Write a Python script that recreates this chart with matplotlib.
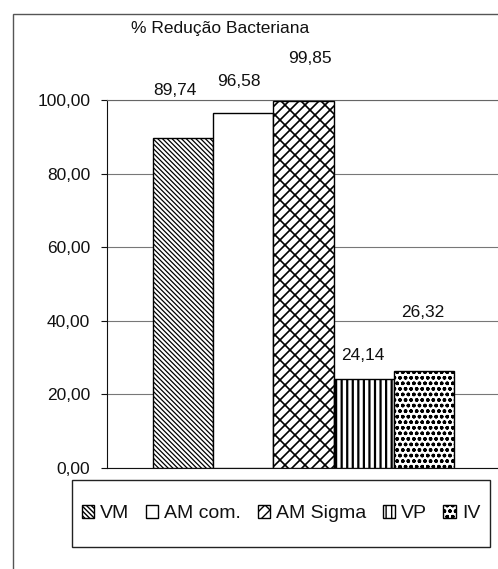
import warnings
warnings.filterwarnings('ignore')
import numpy as np
import matplotlib
matplotlib.use('Agg')
import matplotlib.pyplot as plt
import matplotlib.hatch as mhatch
from matplotlib.path import Path
from matplotlib.patches import Rectangle

# ---------------- data ----------------
series = ['VM', 'AM com.', 'AM Sigma', 'VP', 'IV']
values = [89.74, 96.58, 99.85, 24.14, 26.32]
value_labels = ['89,74', '96,58', '99,85', '24,14', '26,32']
y_ticks = [0, 20, 40, 60, 80, 100]
y_tick_labels = ['0,00', '20,00', '40,00', '60,00', '80,00', '100,00']
title = '% Redução Bacteriana'

# ---------------- styles ----------------
hatches = ['\\' * 7, '', 'B', '|||', 'ooo']
hatch_lw = [0.9, 0.9, 1.2, 1.6, 1.0]
label_offsets_px = [(-8, 47), (-4, 31), (6, 42), (-1, 24), (-1, 59)]


# custom "diagonal brick" hatch, registered as the character 'B'
class BrickHatch(mhatch.HatchPatternBase):
    def __init__(self, hatch, density):
        n = hatch.count('B')
        segs = []
        if n:
            m, q = 10, 10
            P = 1.0 / q
            d = 1.0 / (2 * m)
            for k in range(-m, m + 1):
                c = k / m
                segs.append(((0.0, c), (1.0, 1.0 + c)))
                if k < m:
                    off = (k % 2) * P / 2
                    for j in range(-2, q + 3):
                        t = j * P + off
                        segs.append(((t, t + c), (t - d, t + c + d)))
        self.segs = segs
        self.num_vertices = 2 * len(segs)

    def set_vertices_and_codes(self, vertices, codes):
        for i, (a, b) in enumerate(self.segs):
            vertices[2 * i] = a
            vertices[2 * i + 1] = b
            codes[2 * i] = Path.MOVETO
            codes[2 * i + 1] = Path.LINETO


mhatch._hatch_types.append(BrickHatch)
try:
    mhatch._validate_hatch_pattern = lambda h: None
except Exception:
    pass

plt.rcParams['font.family'] = ['Liberation Sans', 'DejaVu Sans']
plt.rcParams['hatch.linewidth'] = 1.0
plt.rcParams['hatch.color'] = 'black'

W, H = 498, 569
fig = plt.figure(figsize=(W / 100, H / 100), dpi=100)
fig.patch.set_facecolor('white')

ax = fig.add_axes([107 / W, 1 - 468 / H, 393 / W, 368 / H])

x = np.arange(len(series))
bars = []
for i in range(len(series)):
    b = ax.bar(x[i], values[i], width=1.0, color='white', edgecolor='black',
               linewidth=1.0, hatch=hatches[i], label=series[i], zorder=3)
    for p in b.patches:
        try:
            p.set_hatch_linewidth(hatch_lw[i])
        except Exception:
            pass
    bars.append(b)
    ax.annotate(value_labels[i], xy=(x[i], values[i]),
                xytext=label_offsets_px[i], textcoords='offset pixels',
                ha='center', va='center', fontsize=12.5, color='#111',
                annotation_clip=False)

span = 393 / 60.3
ax.set_xlim(2 - span / 2, 2 + span / 2)
ax.set_ylim(0, 100)
ax.set_xticks([])
ax.set_yticks(y_ticks, y_tick_labels)
ax.tick_params(axis='y', length=4, width=0.8, pad=8, labelsize=12.5,
               colors='#111')
ax.set_axisbelow(True)
ax.yaxis.grid(True, color='#777777', linewidth=0.8)
ax.spines['right'].set_visible(False)
ax.spines['top'].set_color('#666666')
ax.spines['top'].set_linewidth(0.8)
ax.spines['left'].set_color('#111')
ax.spines['bottom'].set_color('#111')
ax.patch.set_alpha(0)

fig.text(220 / W, 1 - 28 / H, title, ha='center', va='center', fontsize=12.5,
         color='#111')

# legend frame
leg_box = (72 / W, 1 - 547 / H, 418 / W, 67 / H)
fig.add_artist(Rectangle(leg_box[:2], leg_box[2], leg_box[3],
                         transform=fig.transFigure, fill=False,
                         edgecolor='#222', linewidth=1.0))

handles = [b.patches[0] for b in bars]
leg = fig.legend(handles, series, loc='center', bbox_to_anchor=leg_box,
                 ncol=5, mode='expand', frameon=False,
                 handlelength=0.65, handleheight=0.65,
                 handletextpad=0.3, borderpad=0.5, fontsize=14,
                 borderaxespad=0)
for t in leg.get_texts():
    t.set_color('#111')

fig.add_artist(Rectangle((13 / W, -0.05), 1.0, (H - 14) / H + 0.05,
                         transform=fig.transFigure, fill=False,
                         edgecolor='#555555', linewidth=1.0))

fig.savefig('out.png', dpi=100, facecolor='white')
